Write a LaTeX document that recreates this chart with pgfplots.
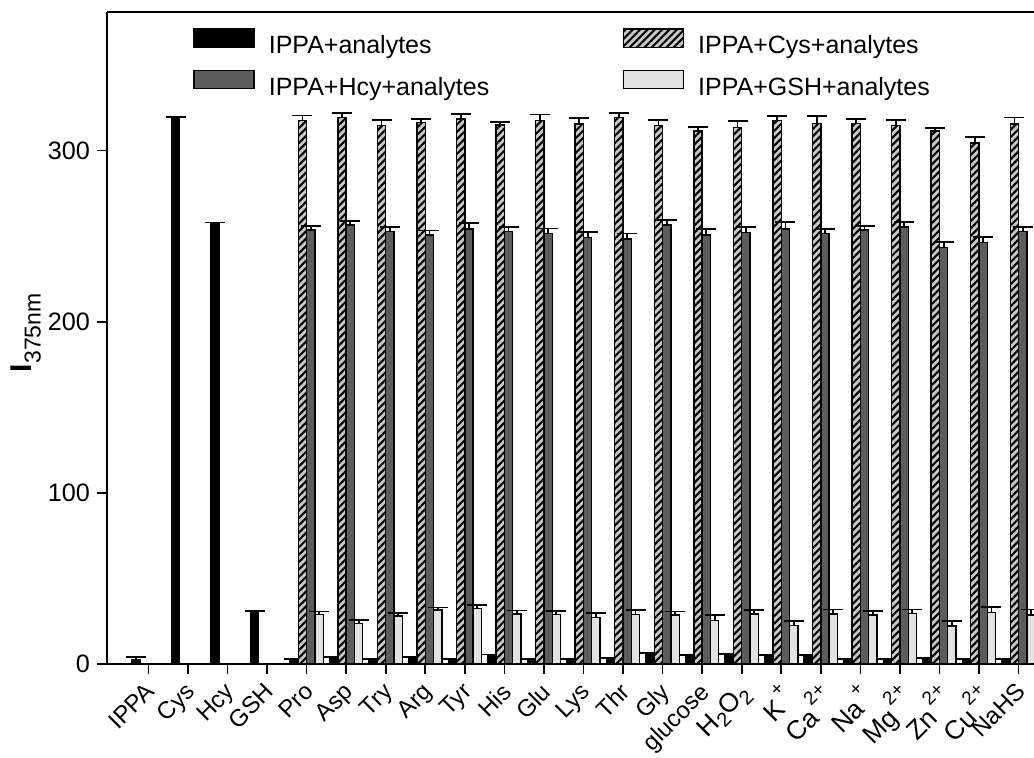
\documentclass[border=0pt]{standalone}
\usepackage{fontspec}
\setmainfont{Liberation Sans}
\usepackage{pgfplots}
\pgfplotsset{compat=1.18}
\usetikzlibrary{patterns.meta}
\definecolor{hatchgray}{RGB}{200,200,200}
\definecolor{darkbar}{RGB}{92,92,92}
\definecolor{lightbar}{RGB}{226,226,226}
\newcommand{\bigion}{\fontsize{13.2}{14}\selectfont}
\newcommand{\ionsup}[1]{\hspace{1.5pt}\raisebox{0.62em}{\fontsize{9.5}{10}\selectfont #1}}
\newcommand{\ionsub}[1]{\raisebox{-0.22em}{\fontsize{10}{10}\selectfont #1}}
\begin{document}
\begin{tikzpicture}
\begin{axis}[
  scale only axis,
  width=463.5pt, height=326pt,
  xmin=-1.047, xmax=22.39,
  ymin=0, ymax=381,
  axis x line*=box, axis y line*=left,
  xtick pos=bottom, ytick pos=left,
  tick align=outside,
  major tick length=5pt,
  every tick/.style={black, line width=0.8pt},
  axis line style={line width=1.1pt},
  xtick={0,...,22},
  xticklabels={IPPA,Cys,Hcy,GSH,Pro,Asp,Try,Arg,Tyr,His,Glu,Lys,Thr,Gly,glucose,
    {\bigion H\ionsub{2}O\ionsub{2}},
    {\bigion K\ionsup{+}},
    {\bigion Ca\ionsup{2+}},
    {\bigion Na\ionsup{+}},
    {\bigion Mg\ionsup{2+}},
    {\bigion Zn\ionsup{2+}},
    {\bigion Cu\ionsup{2+}},
    NaHS},
  xticklabel style={xshift=-1.9pt, yshift=-3.5pt, rotate=45, anchor=north east,
    font=\fontsize{12}{14}\selectfont, inner sep=0pt},
  ytick={0,100,200,300},
  yticklabel style={font=\fontsize{12.6}{14}\selectfont},
  /pgf/number format/assume math mode=true,
  ylabel={{\fontsize{15}{15}\selectfont\textbf{I}}\raisebox{-4.5pt}{\fontsize{11.5}{12}\selectfont 375nm}},
  ylabel style={at={(axis description cs:-0.0874,0.508)}, anchor=center},
  ybar, bar width=0.21,
  legend image code/.code={\draw[#1] (0pt,0pt) rectangle (30pt,9.2pt);},
  legend columns=2,
  legend style={draw=none, fill=none, at={(0.0928,0.9755)}, anchor=north west,
    inner sep=0pt, row sep=5.3pt,
    font=\fontsize{12.5}{14}\selectfont,
    nodes={inner sep=0pt, text height=9pt, text depth=2.5pt, text width=177pt, align=left},
    /tikz/every odd column/.style={column sep=7pt},
    /tikz/every even column/.style={column sep=0pt}},
  error bars/y dir=plus,
  error bars/y explicit,
  error bars/error bar style={line width=0.9pt, black},
  error bars/error mark options={rotate=90, line width=0.9pt, mark size=5pt, black},
]
% IPPA + analytes (black)
\addplot[draw=black, line width=0.7pt, fill=black, bar shift=-0.315]
  coordinates {
  (0,2.3) +- (0,1.6)
  (1,319.0) +- (0,0.5)
  (2,257.5) +- (0,0.5)
  (3,30.3) +- (0,0.8)
  (4,2.3) +- (0,0.4)
  (5,3.5) +- (0,0.4)
  (6,2.7) +- (0,0.4)
  (7,3.5) +- (0,0.4)
  (8,2.7) +- (0,0.4)
  (9,5.2) +- (0,0.4)
  (10,2.7) +- (0,0.4)
  (11,2.7) +- (0,0.4)
  (12,3.1) +- (0,0.4)
  (13,6.2) +- (0,0.4)
  (14,5.0) +- (0,0.4)
  (15,5.4) +- (0,0.4)
  (16,5.0) +- (0,0.4)
  (17,5.0) +- (0,0.4)
  (18,2.5) +- (0,0.4)
  (19,2.7) +- (0,0.4)
  (20,3.1) +- (0,0.4)
  (21,2.3) +- (0,0.4)
  (22,2.5) +- (0,0.4)
  };
\addlegendentry{IPPA+analytes}
% IPPA + Cys + analytes (hatched)
\addplot[draw=black, line width=0.7pt, fill=hatchgray,
  postaction={pattern={Lines[angle=45,distance=2.6pt,line width=1.05pt]}},
  bar shift=-0.105]
  coordinates {
  (4,317.5) +- (0,3.0)
  (5,319.5) +- (0,2.6)
  (6,314.5) +- (0,3.3)
  (7,316.5) +- (0,2.2)
  (8,318.5) +- (0,3.0)
  (9,315.0) +- (0,1.6)
  (10,317.5) +- (0,3.6)
  (11,315.5) +- (0,3.5)
  (12,319.5) +- (0,2.6)
  (13,314.5) +- (0,3.5)
  (14,311.5) +- (0,2.4)
  (15,313.5) +- (0,3.7)
  (16,317.5) +- (0,2.7)
  (17,316.0) +- (0,4.0)
  (18,316.0) +- (0,2.3)
  (19,314.5) +- (0,3.5)
  (20,311.5) +- (0,1.7)
  (21,304.5) +- (0,3.5)
  (22,315.5) +- (0,3.8)
  };
\addlegendentry{IPPA+Cys+analytes}
% IPPA + Hcy + analytes (dark gray)
\addplot[draw=black, line width=0.7pt, fill=darkbar, bar shift=0.105]
  coordinates {
  (4,253.6) +- (0,2.5)
  (5,256.5) +- (0,2.5)
  (6,252.7) +- (0,2.6)
  (7,250.7) +- (0,2.6)
  (8,254.2) +- (0,3.3)
  (9,252.7) +- (0,2.5)
  (10,251.5) +- (0,3.0)
  (11,249.3) +- (0,3.3)
  (12,248.3) +- (0,3.3)
  (13,256.5) +- (0,2.9)
  (14,250.7) +- (0,3.5)
  (15,252.2) +- (0,3.1)
  (16,254.2) +- (0,3.9)
  (17,251.5) +- (0,2.6)
  (18,253.6) +- (0,2.4)
  (19,255.3) +- (0,3.2)
  (20,243.3) +- (0,3.4)
  (21,246.3) +- (0,3.4)
  (22,252.7) +- (0,2.6)
  };
\addlegendentry{IPPA+Hcy+analytes}
% IPPA + GSH + analytes (light gray)
\addplot[draw=black, line width=0.7pt, fill=lightbar, bar shift=0.315]
  coordinates {
  (4,29.0) +- (0,1.7)
  (5,23.7) +- (0,2.0)
  (6,28.0) +- (0,1.7)
  (7,31.5) +- (0,1.5)
  (8,32.4) +- (0,2.0)
  (9,29.2) +- (0,2.0)
  (10,29.0) +- (0,2.1)
  (11,27.0) +- (0,2.6)
  (12,29.0) +- (0,2.5)
  (13,28.6) +- (0,2.1)
  (14,25.3) +- (0,3.3)
  (15,29.2) +- (0,2.3)
  (16,22.4) +- (0,2.7)
  (17,29.2) +- (0,2.7)
  (18,28.6) +- (0,2.5)
  (19,29.6) +- (0,2.3)
  (20,22.2) +- (0,2.9)
  (21,30.0) +- (0,3.5)
  (22,28.6) +- (0,3.3)
  };
\addlegendentry{IPPA+GSH+analytes}
\end{axis}
\pgfresetboundingbox
\path[use as bounding box] (-53.5pt,-47pt) rectangle (463.5pt,332pt);
\end{tikzpicture}
\end{document}
